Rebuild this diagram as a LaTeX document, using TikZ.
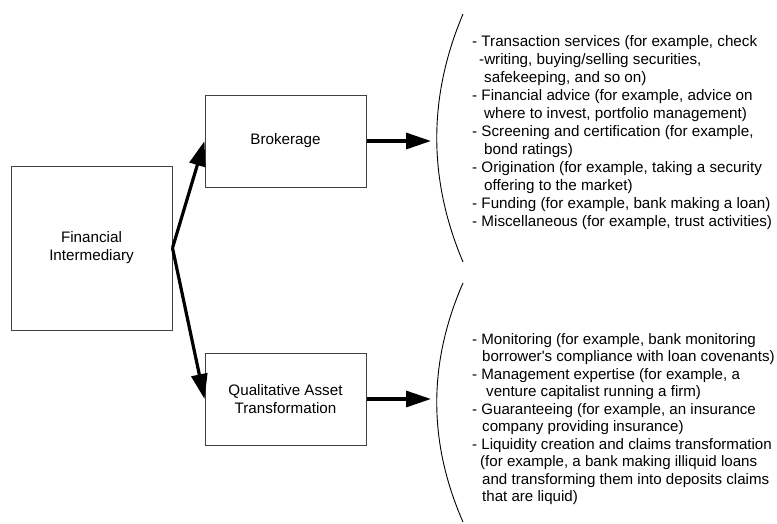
\documentclass[tikz,border=0pt]{standalone}
\usepackage{fontspec}
\setmainfont{Liberation Sans}
\usetikzlibrary{arrows.meta}
\begin{document}
\begin{tikzpicture}[x=1pt,y=-1pt,
  box/.style={draw=black!75, line width=1pt, inner sep=0pt, align=center,
    font=\fontsize{15.2}{18}\selectfont},
  conn/.style={line width=3.2pt, -{Triangle[length=25pt,width=16pt]}},
  bracket/.style={line width=0.9pt},
  listtext/.style={anchor=north west, inner sep=0pt, align=left}]
\useasboundingbox (0,0) rectangle (777,523);
\node[box, minimum width=161pt, minimum height=164pt] (fi) at (91.5,248) {Financial\\Intermediary};
\node[box, minimum width=161pt, minimum height=92pt] (brok) at (285.5,141) {Brokerage};
\node[box, minimum width=161pt, minimum height=92pt] (qat) at (285.5,399) {Qualitative Asset\\Transformation};
\draw[conn] (fi.east) -- (brok.west);
\draw[conn] (fi.east) -- (qat.west);
\coordinate (t1) at (431,141);
\coordinate (t2) at (431,399);
\draw[conn] (brok.east) -- (t1);
\draw[conn] (qat.east) -- (t2);
\draw[bracket] (463,14) .. controls (428,97) and (428,179) .. (463,262);
\draw[bracket] (463,283) .. controls (428,363) and (428,442) .. (463,522);
\node[listtext, font=\fontsize{15.2}{18}\selectfont] (list1) at (472,35) {%
- Transaction services (for example, check\\
\hspace*{7pt}-writing, buying/selling securities,\\
\hspace*{12pt}safekeeping, and so on)\\
- Financial advice (for example, advice on\\
\hspace*{12pt}where to invest, portfolio management)\\
- Screening and certification (for example,\\
\hspace*{12pt}bond ratings)\\
- Origination (for example, taking a security\\
\hspace*{12pt}offering to the market)\\
- Funding (for example, bank making a loan)\\
- Miscellaneous (for example, trust activities)};
\node[listtext, font=\fontsize{15.1}{17.5}\selectfont] (list2) at (472,333) {%
- Monitoring (for example, bank monitoring\\
\hspace*{10pt}borrower\textquotesingle s compliance with loan covenants)\\
- Management expertise (for example, a\\
\hspace*{14pt}venture capitalist running a firm)\\
- Guaranteeing (for example, an insurance\\
\hspace*{10pt}company providing insurance)\\
- Liquidity creation and claims transformation\\
\hspace*{8pt}(for example, a bank making illiquid loans\\
\hspace*{10pt}and transforming them into deposits claims\\
\hspace*{10pt}that are liquid)};
\end{tikzpicture}
\end{document}
